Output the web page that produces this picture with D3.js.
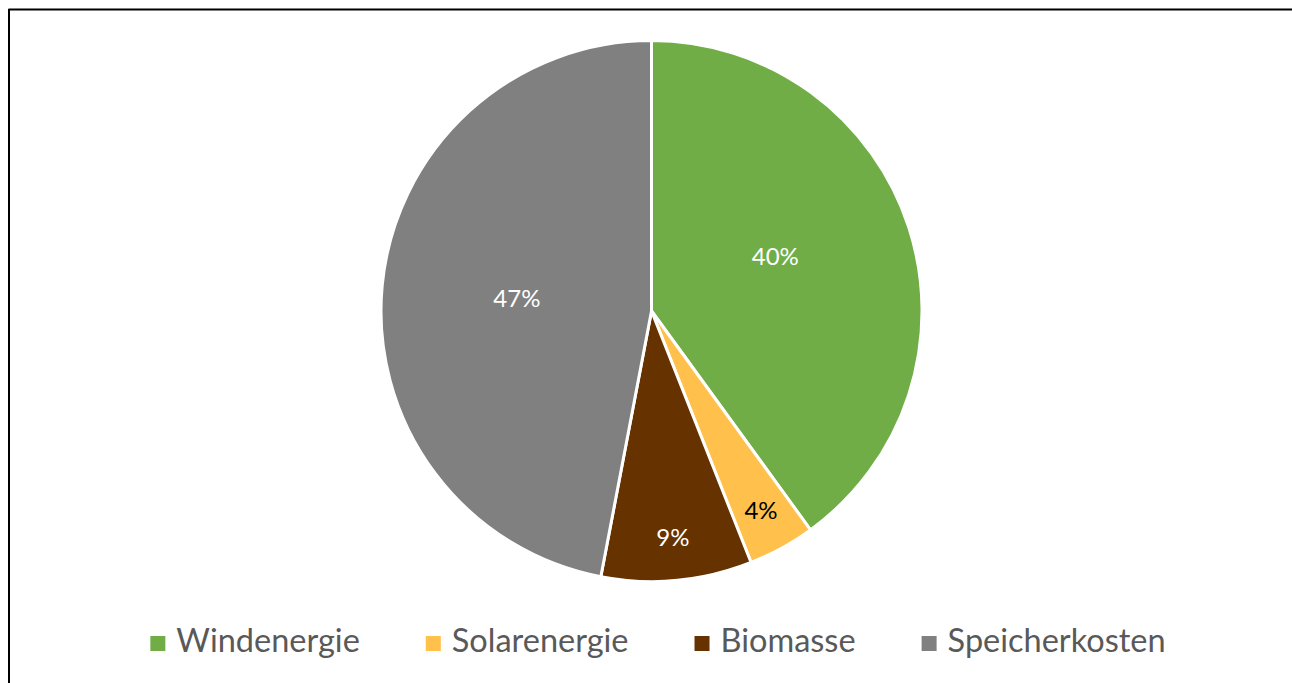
<!DOCTYPE html>
<html>
<head>
<meta charset="utf-8">
<script src="https://cdn.jsdelivr.net/npm/d3@7/dist/d3.min.js"></script>
<style>
html,body{margin:0;padding:0;background:#fff;}
svg{display:block;}
</style>
</head>
<body>
<svg id="chart" width="1292" height="683"></svg>
<script>
const categories = ["Windenergie", "Solarenergie", "Biomasse", "Speicherkosten"];
const values = [40, 4, 9, 47];
const colors = ["#70AD47", "#FFC04C", "#663300", "#808080"];
const labelColors = ["#ffffff", "#000000", "#ffffff", "#ffffff"];

const W = 1292, H = 683;
const svg = d3.select("#chart");
const font = "Lato, 'Open Sans', sans-serif";

// frame (top and left edges visible)
svg.append("line").attr("x1", 8.5).attr("y1", 9.5).attr("x2", W).attr("y2", 9.5)
  .attr("stroke", "#000").attr("stroke-width", 2);
svg.append("line").attr("x1", 9).attr("y1", 9).attr("x2", 9).attr("y2", H)
  .attr("stroke", "#000").attr("stroke-width", 2);

const cx = 651.5, cy = 311, R = 270.5;
const total = d3.sum(values);
const pie = d3.pie().sort(null).value(d => d)(values);
const arc = d3.arc().innerRadius(0).outerRadius(R);

const g = svg.append("g").attr("transform", `translate(${cx},${cy})`);
g.selectAll("path").data(pie).join("path")
  .attr("d", arc)
  .attr("fill", (d, i) => colors[i])
  .attr("stroke", "#fff").attr("stroke-width", 3).attr("stroke-linejoin", "round");

g.selectAll("text.lbl").data(pie).join("text")
  .attr("class", "lbl")
  .attr("transform", d => {
    const share = d.value / total;
    const k = share > 0.2 ? 0.5 : 0.84;
    const a = (d.startAngle + d.endAngle) / 2 - (share > 0.2 && share < 0.45 ? 0.1 : 0);
    return `translate(${Math.sin(a) * R * k},${-Math.cos(a) * R * k})`;
  })
  .attr("text-anchor", "middle").attr("dy", "0.36em")
  .attr("font-family", font).attr("font-size", 24)
  .attr("fill", (d, i) => labelColors[i])
  .text(d => d3.format(".0%")(d.value / total));

// legend
const leg = svg.append("g");
const fs = 32.5, box = 15, boxGap = 11, itemGap = 66;
const items = leg.selectAll("g").data(categories).join("g");
items.append("rect").attr("width", box).attr("height", box)
  .attr("y", -box - 1)
  .attr("fill", (d, i) => colors[i]);
items.append("text").attr("x", box + boxGap).attr("y", 0)
  .attr("font-family", font).attr("font-size", fs).attr("fill", "#595959")
  .text(d => d);
let x = 0;
items.each(function () {
  const w = box + boxGap + d3.select(this).select("text").node().getComputedTextLength();
  d3.select(this).attr("transform", `translate(${x},0)`);
  x += w + itemGap;
});
const totalW = x - itemGap;
leg.attr("transform", `translate(${658 - totalW / 2},652)`);
</script>
</body>
</html>
